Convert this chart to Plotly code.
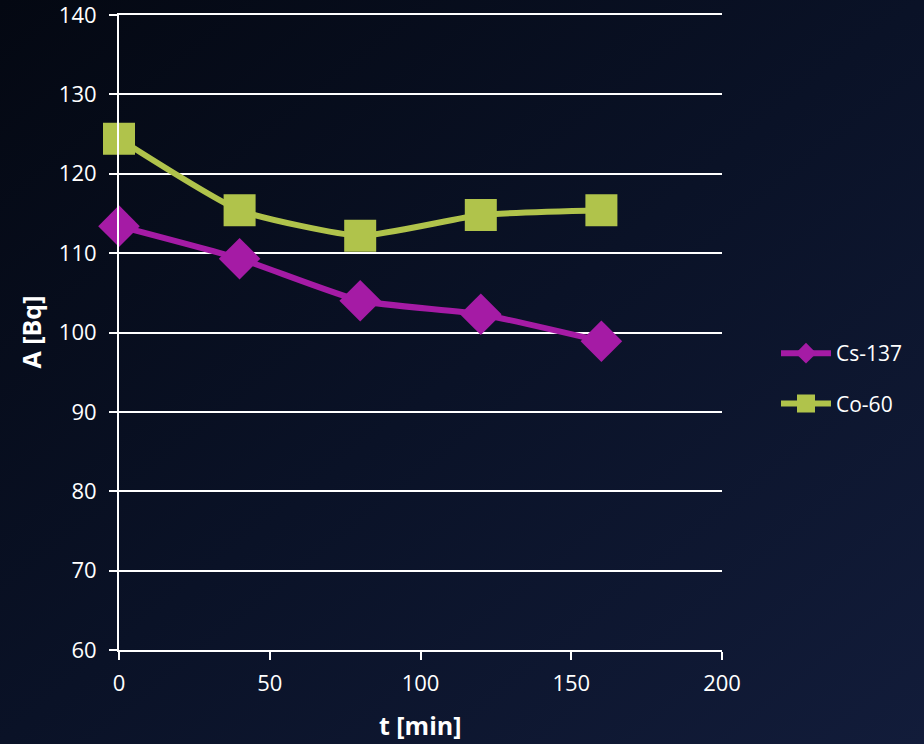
import base64
import plotly.graph_objects as go

# Measured activity over time
t_min = [0, 40, 80, 120, 160]
cs137 = [113.4, 109.3, 104.0, 102.3, 98.9]
co60 = [124.4, 115.4, 112.2, 114.8, 115.4]

x_ticks = [0, 50, 100, 150, 200]
y_ticks = [60, 70, 80, 90, 100, 110, 120, 130, 140]

FONT = "Open Sans"
CS_COLOR = "#a51ba5"
CO_COLOR = "#b0c34b"

# Dark navy diagonal gradient for the page background
svg = (
    '<svg xmlns="http://www.w3.org/2000/svg" width="924" height="744">'
    '<defs><linearGradient id="g" x1="0" y1="0" x2="1" y2="1">'
    '<stop offset="0" stop-color="#040812"/>'
    '<stop offset="0.5" stop-color="#0a1227"/>'
    '<stop offset="1" stop-color="#121c3a"/>'
    '</linearGradient></defs>'
    '<rect width="924" height="744" fill="url(#g)"/></svg>'
)
bg_src = "data:image/svg+xml;base64," + base64.b64encode(svg.encode()).decode()

fig = go.Figure()
fig.add_trace(go.Scatter(
    x=t_min, y=cs137, name="Cs-137", mode="lines+markers",
    line=dict(color=CS_COLOR, width=6, shape="spline", smoothing=0.5),
    marker=dict(symbol="diamond", size=32, color=CS_COLOR),
    legendgroup="cs", cliponaxis=False,
))
fig.add_trace(go.Scatter(
    x=t_min, y=co60, name="Co-60", mode="lines+markers",
    line=dict(color=CO_COLOR, width=6, shape="spline", smoothing=0.5),
    marker=dict(symbol="square", size=30, color=CO_COLOR,
                line=dict(color=CO_COLOR, width=2)),
    legendgroup="co", cliponaxis=False,
))

W, H = 924, 744
L, R, T, B = 119, 202, 15, 94
pw, ph = W - L - R, H - T - B

title_font = dict(size=25, color="white", family=FONT)

fig.update_layout(
    width=W, height=H,
    margin=dict(l=L, r=R, t=T, b=B, autoexpand=False),
    paper_bgcolor="#0a1227",
    plot_bgcolor="rgba(0,0,0,0)",
    font=dict(family=FONT, color="white", size=22),
    showlegend=True,
    legend=dict(
        x=1.0 + 54 / pw, y=(650 - 333) / ph, xanchor="left", yanchor="top",
        font=dict(size=21, color="white", family=FONT), bgcolor="rgba(0,0,0,0)",
        tracegroupgap=20, itemwidth=50,
    ),
    images=[dict(
        source=bg_src, xref="paper", yref="paper",
        x=-L / pw, y=1 + T / ph, sizex=W / pw, sizey=H / ph,
        xanchor="left", yanchor="top", sizing="stretch", layer="below",
    )],
    annotations=[
        dict(text="<b>t [min]</b>", xref="paper", yref="paper",
             x=0.5, y=-(725 - 650) / ph, xanchor="center", yanchor="middle",
             showarrow=False, font=title_font),
        dict(text="<b>A [Bq]</b>", xref="paper", yref="paper",
             x=-(119 - 30) / pw, y=0.5, xanchor="center", yanchor="middle",
             textangle=-90, showarrow=False, font=title_font),
    ],
    xaxis=dict(
        range=[0, 200], tickvals=x_ticks, showgrid=False, zeroline=False,
        showline=True, mirror=True, linecolor="white", linewidth=2, automargin=False,
        ticks="outside", ticklen=8, tickcolor="white", tickwidth=2,
        ticklabelstandoff=5, ticklabeloverflow="allow",
        tickfont=dict(size=22, color="white", family=FONT),
    ),
    yaxis=dict(
        range=[60, 140], tickvals=y_ticks, showgrid=True, gridcolor="white", gridwidth=1.5,
        zeroline=False, showline=True, linecolor="white", linewidth=2, automargin=False,
        ticks="outside", ticklen=8, tickcolor="white", tickwidth=2,
        ticklabelstandoff=8, ticklabeloverflow="allow",
        tickfont=dict(size=22, color="white", family=FONT),
    ),
)

fig.write_html("out.html")
